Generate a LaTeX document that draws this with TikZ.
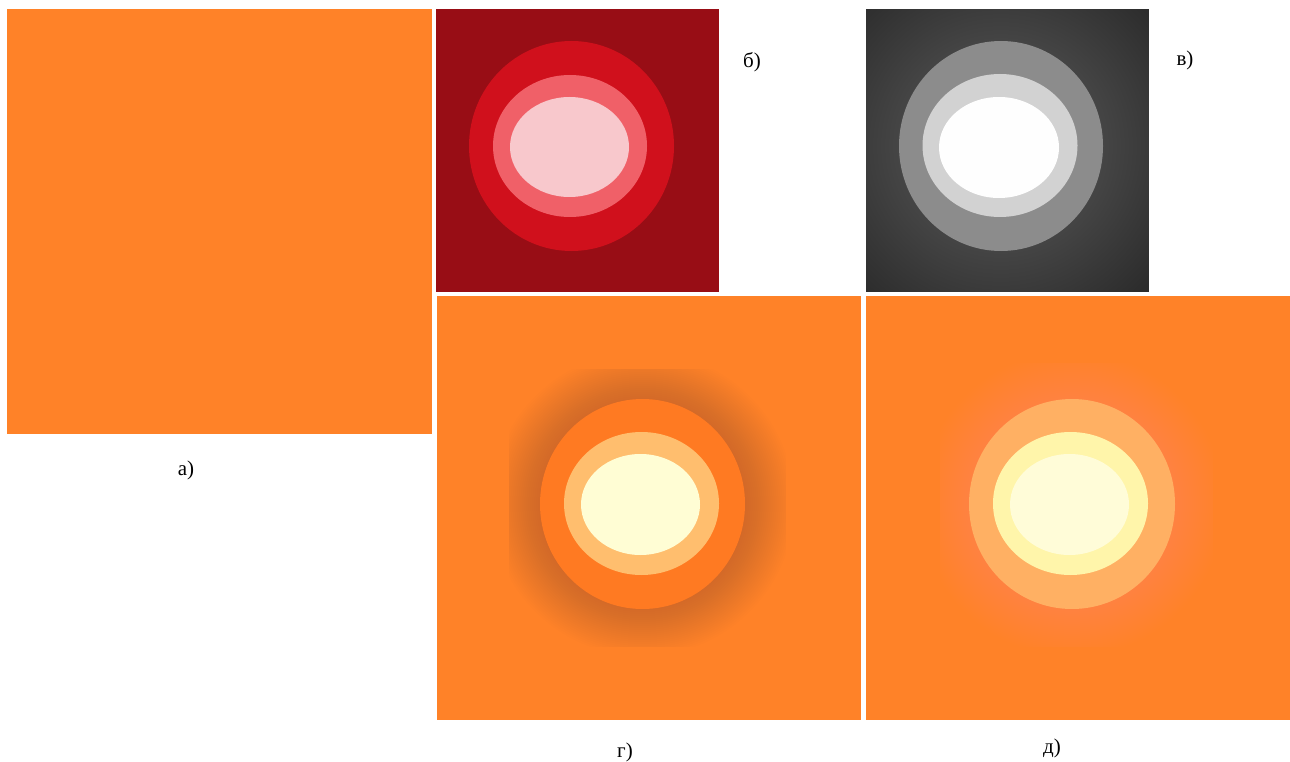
\documentclass[tikz,border=0pt]{standalone}
\usepackage{fontspec}
\setmainfont{Liberation Serif}
\definecolor{orng}{RGB}{255,130,40}
\definecolor{redbg}{RGB}{152,13,21}
\definecolor{redA}{RGB}{208,16,28}
\definecolor{redB}{RGB}{240,96,104}
\definecolor{redC}{RGB}{248,200,204}
\definecolor{grayBg}{RGB}{44,44,44}
\definecolor{grayA}{RGB}{140,140,140}
\definecolor{grayB}{RGB}{210,210,210}
\definecolor{grayC}{RGB}{254,254,254}
\definecolor{haloDark}{RGB}{90,80,60}
\definecolor{gA}{RGB}{255,122,34}
\definecolor{gB}{RGB}{255,190,110}
\definecolor{gC}{RGB}{255,253,212}
\definecolor{dA}{RGB}{255,176,99}
\definecolor{dB}{RGB}{255,245,170}
\definecolor{dC}{RGB}{255,252,216}
\begin{document}
\begin{tikzpicture}[x=1pt,y=-1pt,
  lbl/.style={font=\fontsize{21}{24}\selectfont, inner sep=0pt, text=black}]
\useasboundingbox (0,0) rectangle (1290,762);
\fill[white] (0,0) rectangle (1290,762);
% panel a
\fill[orng] (7,9) rectangle (432,434);
% panel b
\fill[redbg] (436,9) rectangle (719,292);
\fill[redA] (571.5,146) ellipse [x radius=102.5, y radius=105];
\fill[redB] (570,146) ellipse [x radius=77, y radius=71];
\fill[redC] (569.5,147) ellipse [x radius=59.5, y radius=50];
% panel v
\begin{scope}
\clip (866,9) rectangle (1149,292);
\fill[grayBg] (866,9) rectangle (1149,292);
\foreach \r in {200,196,...,104} \fill[white, opacity=0.008] (1001,146) circle (\r);
\end{scope}
\fill[grayA] (1001,146) ellipse [x radius=102, y radius=105];
\fill[grayB] (1000,145.5) ellipse [x radius=77.5, y radius=71.5];
\fill[grayC] (999,147.5) ellipse [x radius=60, y radius=50.5];
% panel g
\fill[orng] (437,296) rectangle (861,720);
\begin{scope}
\clip (509,369) rectangle (786,646);
\foreach \r in {152,150,...,104} \fill[haloDark, opacity=0.008] (642.5,504) circle (\r);
\end{scope}
\fill[gA] (642.5,504) ellipse [x radius=102.5, y radius=105];
\fill[gB] (641.5,503.5) ellipse [x radius=77.5, y radius=71.5];
\fill[gC] (640.5,504.5) ellipse [x radius=59.5, y radius=50.5];
% panel d
\fill[orng] (866,296) rectangle (1290,720);
\begin{scope}
\clip (940,363) rectangle (1213,646);
\foreach \r in {152,150,...,104} \fill[white, opacity=0.006] (1072,504) circle (\r);
\end{scope}
\fill[dA] (1072,504) ellipse [x radius=103, y radius=105];
\fill[dB] (1070.5,503.5) ellipse [x radius=77.5, y radius=71.5];
\fill[dC] (1069.5,504.5) ellipse [x radius=59.5, y radius=50.5];
% labels
\node[lbl] (la) at (186,470) {а)};
\node[lbl] (lb) at (752,62) {б)};
\node[lbl] (lv) at (1185,60) {в)};
\node[lbl] (lg) at (625,752) {г)};
\node[lbl] (ld) at (1052,748) {д)};
\end{tikzpicture}
\end{document}
